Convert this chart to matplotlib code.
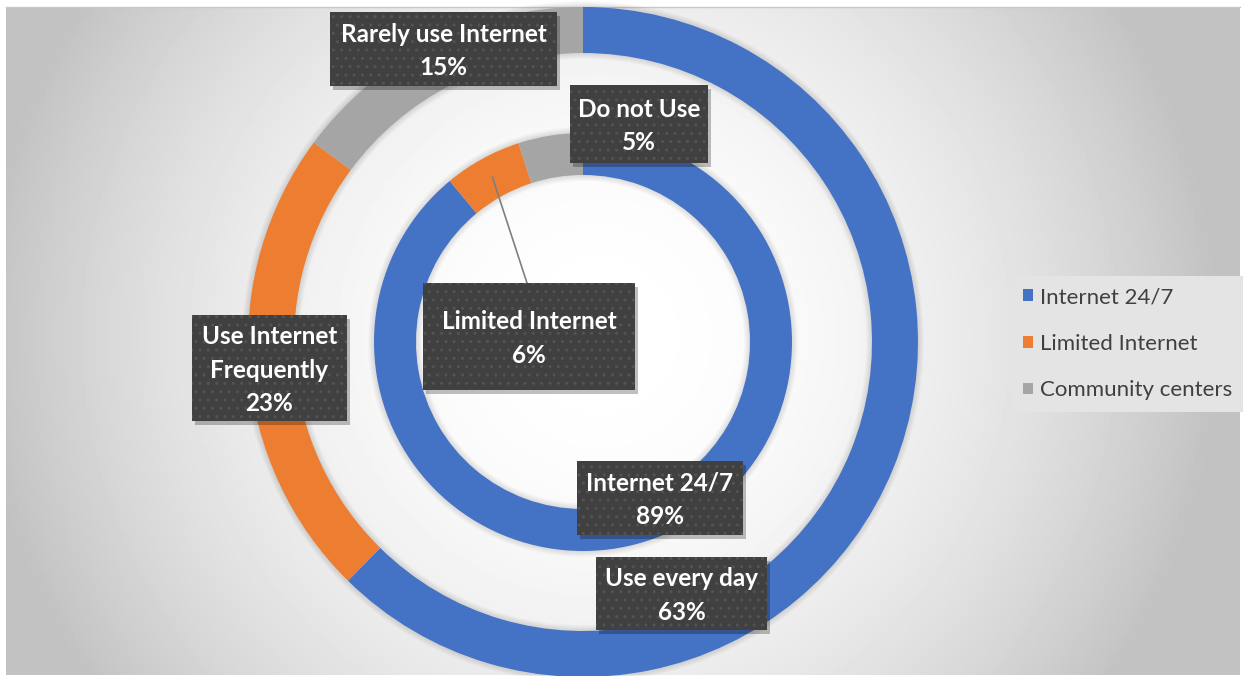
import numpy as np
import matplotlib
matplotlib.use("Agg")
import matplotlib.pyplot as plt
from matplotlib.patches import Rectangle, Patch

# survey data
series_names = ["Internet 24/7", "Limited Internet", "Community centers"]
colors = ["#4472C4", "#ED7D31", "#A5A5A5"]

outer_labels = ["Use every day", "Use Internet\nFrequently", "Rarely use Internet"]
outer_values = [63, 23, 15]

inner_labels = ["Internet 24/7", "Limited Internet", "Do not Use"]
inner_values = [89, 6, 5]

W, H = 1244, 676
cx, cy = 583, 334          # donut centre (pixels, origin bottom-left)
outer_r, outer_w = 335, 46
inner_r, inner_w = 209, 42

# label boxes: x0, y0, width, height (pixels)
outer_boxes = [(596, 46, 171, 73), (192, 255, 155, 106), (330, 590, 227, 74)]
inner_boxes = [(577, 141, 166, 74), (423, 286, 212, 107), (570, 513, 138, 78)]

fig = plt.figure(figsize=(W / 100, H / 100), dpi=100, facecolor="white")
ax = fig.add_axes([0, 0, 1, 1])

# radial grey background
xs = np.linspace(6, 1240, 400)
ys = np.linspace(1, 669, 220)
gx, gy = np.meshgrid(xs, ys)
rr = np.hypot(gx - 600, gy - 340) / 620
shade = np.clip(1 - 0.24 * rr ** 2, 0.76, 1)
ax.imshow(shade, extent=[6, 1240, 1, 669], origin="lower", cmap="gray",
          vmin=0, vmax=1, zorder=0, aspect="auto")
ax.plot([6, 1240], [669, 669], color="#c8c8c8", lw=1, zorder=1)

# soft shadow around both rings
for r, w in [(outer_r, outer_w), (inner_r, inner_w)]:
    for i in range(1, 7):
        ax.pie([1], radius=r + i, center=(cx, cy),
               colors=["black"], wedgeprops=dict(width=w + 2 * i, alpha=0.018, lw=0))

wo, _ = ax.pie(outer_values, radius=outer_r, center=(cx, cy), colors=colors,
               startangle=90, counterclock=False,
               wedgeprops=dict(width=outer_w, edgecolor="none"))
wi, _ = ax.pie(inner_values, radius=inner_r, center=(cx, cy), colors=colors,
               startangle=90, counterclock=False,
               wedgeprops=dict(width=inner_w, edgecolor="none"))


def label_box(x0, y0, w, h, text):
    ax.add_patch(Rectangle((x0 + 3, y0 - 4), w, h, facecolor="#000000",
                           alpha=0.25, lw=0, zorder=4))
    ax.add_patch(Rectangle((x0, y0), w, h, facecolor="#404040",
                           edgecolor="#535353", hatch="..", lw=0, zorder=5))
    ax.text(x0 + w / 2, y0 + h / 2 - 2, text, ha="center", va="center",
            color="white", fontsize=17.5, fontweight="bold", family="Lato",
            linespacing=1.55, zorder=6)


for name, val, box in zip(outer_labels, outer_values, outer_boxes):
    label_box(*box, f"{name}\n{val}%")
for name, val, box in zip(inner_labels, inner_values, inner_boxes):
    label_box(*box, f"{name}\n{val}%")

# leader line from the small orange slice to its label
mid = np.deg2rad(90 - 360 * (inner_values[0] + inner_values[1] / 2) / sum(inner_values))
rm = inner_r - inner_w / 2
bx, by, bw, bh = inner_boxes[1]
ax.plot([cx + rm * np.cos(mid), bx + 104], [cy + rm * np.sin(mid), by + bh],
        color="#7f7f7f", lw=1.2, zorder=3)

handles = [Patch(facecolor=c, edgecolor="none") for c in colors]
leg = ax.legend(handles, series_names, loc="upper left",
                bbox_to_anchor=(1012 / W, 1 - 276 / H), borderaxespad=0,
                frameon=True, fancybox=False, handlelength=0.45,
                handleheight=0.45, handletextpad=0.3, labelspacing=1.2,
                borderpad=0.5, prop=dict(family="Lato", size=16))
leg.get_frame().set_facecolor("#e4e4e4")
leg.get_frame().set_edgecolor("none")
leg.get_frame().set_alpha(1)
for t in leg.get_texts():
    t.set_color("#404040")

ax.set_xlim(0, W)
ax.set_ylim(0, H)
ax.axis("off")
fig.savefig("out.png", dpi=100, facecolor="white")
